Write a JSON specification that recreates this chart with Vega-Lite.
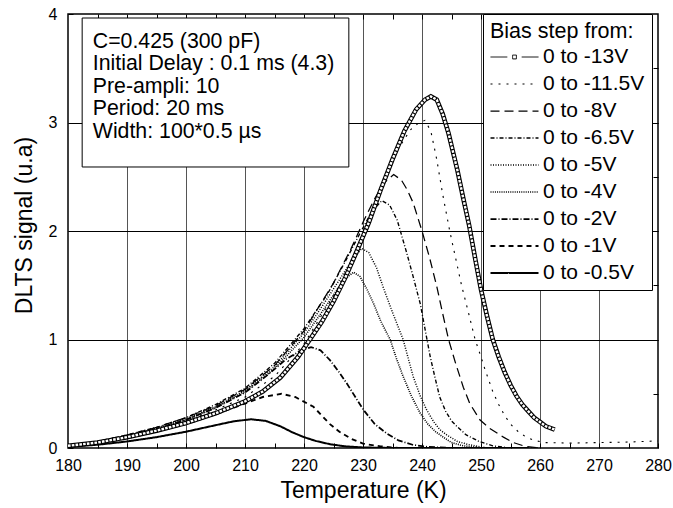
{
  "$schema": "https://vega.github.io/schema/vega-lite/v6.json",
  "width": 590,
  "height": 434,
  "autosize": "none",
  "padding": {"left": 68, "top": 14, "right": 15, "bottom": 60},
  "background": "#ffffff",
  "config": {
    "font": "Liberation Sans",
    "view": {"stroke": "#000000", "strokeWidth": 1.5},
    "axis": {
      "labelFontSize": 16, "labelColor": "#000000", "labelFont": "Liberation Sans",
      "titleFontSize": 23, "titleFontWeight": "normal", "titleColor": "#000000", "titleFont": "Liberation Sans",
      "tickColor": "#000000", "tickSize": -5, "tickWidth": 1, "domain": false
    },
    "legend": {
      "orient": "none", "legendX": 415, "legendY": 0, "padding": 7,
      "strokeColor": "#000000", "fillColor": "#ffffff",
      "titleFontSize": 21.5, "titleFontWeight": "normal", "titleColor": "#000000", "titleFont": "Liberation Sans",
      "labelFontSize": 21, "labelColor": "#000000", "labelFont": "Liberation Sans", "labelLimit": 300,
      "symbolType": "M-4,0H4", "symbolSize": 144, "symbolStrokeColor": "#000000", "symbolOffset": 14,
      "labelOffset": 18, "rowPadding": 5, "titlePadding": 4
    }
  },
  "data": {"values": [
    {"series": "0 to -13V", "T": 180, "v": 0.02}, {"series": "0 to -13V", "T": 185, "v": 0.05}, {"series": "0 to -13V", "T": 190, "v": 0.10}, {"series": "0 to -13V", "T": 195, "v": 0.16}, {"series": "0 to -13V", "T": 200, "v": 0.23}, {"series": "0 to -13V", "T": 205, "v": 0.32}, {"series": "0 to -13V", "T": 210, "v": 0.43}, {"series": "0 to -13V", "T": 213, "v": 0.52}, {"series": "0 to -13V", "T": 216, "v": 0.65}, {"series": "0 to -13V", "T": 219, "v": 0.84}, {"series": "0 to -13V", "T": 221, "v": 1.0}, {"series": "0 to -13V", "T": 223, "v": 1.16}, {"series": "0 to -13V", "T": 225, "v": 1.35}, {"series": "0 to -13V", "T": 227, "v": 1.57}, {"series": "0 to -13V", "T": 229, "v": 1.82}, {"series": "0 to -13V", "T": 231, "v": 2.08}, {"series": "0 to -13V", "T": 233, "v": 2.38}, {"series": "0 to -13V", "T": 235, "v": 2.66}, {"series": "0 to -13V", "T": 237, "v": 2.92}, {"series": "0 to -13V", "T": 239, "v": 3.12}, {"series": "0 to -13V", "T": 240.5, "v": 3.21}, {"series": "0 to -13V", "T": 241.5, "v": 3.24}, {"series": "0 to -13V", "T": 242.5, "v": 3.21}, {"series": "0 to -13V", "T": 243.5, "v": 3.08}, {"series": "0 to -13V", "T": 244.5, "v": 2.9}, {"series": "0 to -13V", "T": 246, "v": 2.56}, {"series": "0 to -13V", "T": 247, "v": 2.3}, {"series": "0 to -13V", "T": 248, "v": 2.05}, {"series": "0 to -13V", "T": 249, "v": 1.75}, {"series": "0 to -13V", "T": 250, "v": 1.46}, {"series": "0 to -13V", "T": 251, "v": 1.22}, {"series": "0 to -13V", "T": 252, "v": 1.0}, {"series": "0 to -13V", "T": 253, "v": 0.84}, {"series": "0 to -13V", "T": 254, "v": 0.7}, {"series": "0 to -13V", "T": 255, "v": 0.58}, {"series": "0 to -13V", "T": 256, "v": 0.48}, {"series": "0 to -13V", "T": 257, "v": 0.4}, {"series": "0 to -13V", "T": 258, "v": 0.34}, {"series": "0 to -13V", "T": 259, "v": 0.28}, {"series": "0 to -13V", "T": 260, "v": 0.24}, {"series": "0 to -13V", "T": 261, "v": 0.2}, {"series": "0 to -13V", "T": 262.5, "v": 0.17},

    {"series": "0 to -11.5V", "T": 180, "v": 0.02}, {"series": "0 to -11.5V", "T": 185, "v": 0.05}, {"series": "0 to -11.5V", "T": 190, "v": 0.11}, {"series": "0 to -11.5V", "T": 195, "v": 0.17}, {"series": "0 to -11.5V", "T": 200, "v": 0.25}, {"series": "0 to -11.5V", "T": 205, "v": 0.35}, {"series": "0 to -11.5V", "T": 210, "v": 0.47}, {"series": "0 to -11.5V", "T": 215, "v": 0.66}, {"series": "0 to -11.5V", "T": 220, "v": 0.96}, {"series": "0 to -11.5V", "T": 225, "v": 1.4}, {"series": "0 to -11.5V", "T": 228, "v": 1.72}, {"series": "0 to -11.5V", "T": 231, "v": 2.12}, {"series": "0 to -11.5V", "T": 234, "v": 2.52}, {"series": "0 to -11.5V", "T": 236, "v": 2.76}, {"series": "0 to -11.5V", "T": 238, "v": 2.93}, {"series": "0 to -11.5V", "T": 239.5, "v": 3.0}, {"series": "0 to -11.5V", "T": 240.5, "v": 3.02}, {"series": "0 to -11.5V", "T": 241.5, "v": 2.92}, {"series": "0 to -11.5V", "T": 242.5, "v": 2.66}, {"series": "0 to -11.5V", "T": 243.5, "v": 2.34}, {"series": "0 to -11.5V", "T": 244.7, "v": 2.0}, {"series": "0 to -11.5V", "T": 245.7, "v": 1.75}, {"series": "0 to -11.5V", "T": 246.7, "v": 1.5}, {"series": "0 to -11.5V", "T": 248, "v": 1.22}, {"series": "0 to -11.5V", "T": 249, "v": 1.0}, {"series": "0 to -11.5V", "T": 250, "v": 0.84}, {"series": "0 to -11.5V", "T": 250.7, "v": 0.72}, {"series": "0 to -11.5V", "T": 252, "v": 0.52}, {"series": "0 to -11.5V", "T": 253, "v": 0.4}, {"series": "0 to -11.5V", "T": 254, "v": 0.3}, {"series": "0 to -11.5V", "T": 255, "v": 0.22}, {"series": "0 to -11.5V", "T": 256.5, "v": 0.14}, {"series": "0 to -11.5V", "T": 257.7, "v": 0.1}, {"series": "0 to -11.5V", "T": 259, "v": 0.07}, {"series": "0 to -11.5V", "T": 261, "v": 0.05}, {"series": "0 to -11.5V", "T": 265, "v": 0.045}, {"series": "0 to -11.5V", "T": 270, "v": 0.05}, {"series": "0 to -11.5V", "T": 275, "v": 0.055}, {"series": "0 to -11.5V", "T": 280, "v": 0.065},

    {"series": "0 to -8V", "T": 180, "v": 0.02}, {"series": "0 to -8V", "T": 185, "v": 0.06}, {"series": "0 to -8V", "T": 190, "v": 0.12}, {"series": "0 to -8V", "T": 195, "v": 0.19}, {"series": "0 to -8V", "T": 200, "v": 0.28}, {"series": "0 to -8V", "T": 205, "v": 0.39}, {"series": "0 to -8V", "T": 210, "v": 0.54}, {"series": "0 to -8V", "T": 215, "v": 0.76}, {"series": "0 to -8V", "T": 220, "v": 1.08}, {"series": "0 to -8V", "T": 225, "v": 1.52}, {"series": "0 to -8V", "T": 228, "v": 1.84}, {"series": "0 to -8V", "T": 230, "v": 2.08}, {"series": "0 to -8V", "T": 232, "v": 2.3}, {"series": "0 to -8V", "T": 233.5, "v": 2.44}, {"series": "0 to -8V", "T": 235.2, "v": 2.52}, {"series": "0 to -8V", "T": 236.5, "v": 2.47}, {"series": "0 to -8V", "T": 237.5, "v": 2.38}, {"series": "0 to -8V", "T": 238.5, "v": 2.26}, {"series": "0 to -8V", "T": 240, "v": 2.0}, {"series": "0 to -8V", "T": 241.3, "v": 1.75}, {"series": "0 to -8V", "T": 242.5, "v": 1.49}, {"series": "0 to -8V", "T": 243.5, "v": 1.24}, {"series": "0 to -8V", "T": 244.5, "v": 1.0}, {"series": "0 to -8V", "T": 245.7, "v": 0.78}, {"series": "0 to -8V", "T": 247, "v": 0.56}, {"series": "0 to -8V", "T": 248.1, "v": 0.41}, {"series": "0 to -8V", "T": 249.8, "v": 0.26}, {"series": "0 to -8V", "T": 251.5, "v": 0.18}, {"series": "0 to -8V", "T": 253.8, "v": 0.1}, {"series": "0 to -8V", "T": 255.5, "v": 0.05}, {"series": "0 to -8V", "T": 257.5, "v": 0.015}, {"series": "0 to -8V", "T": 260, "v": 0.0},

    {"series": "0 to -6.5V", "T": 180, "v": 0.02}, {"series": "0 to -6.5V", "T": 185, "v": 0.06}, {"series": "0 to -6.5V", "T": 190, "v": 0.12}, {"series": "0 to -6.5V", "T": 195, "v": 0.19}, {"series": "0 to -6.5V", "T": 200, "v": 0.28}, {"series": "0 to -6.5V", "T": 205, "v": 0.40}, {"series": "0 to -6.5V", "T": 210, "v": 0.55}, {"series": "0 to -6.5V", "T": 215, "v": 0.78}, {"series": "0 to -6.5V", "T": 220, "v": 1.1}, {"series": "0 to -6.5V", "T": 224, "v": 1.42}, {"series": "0 to -6.5V", "T": 227, "v": 1.72}, {"series": "0 to -6.5V", "T": 229.5, "v": 1.98}, {"series": "0 to -6.5V", "T": 231.5, "v": 2.18}, {"series": "0 to -6.5V", "T": 233.2, "v": 2.28}, {"series": "0 to -6.5V", "T": 234.5, "v": 2.24}, {"series": "0 to -6.5V", "T": 235.8, "v": 2.1}, {"series": "0 to -6.5V", "T": 237.4, "v": 1.8}, {"series": "0 to -6.5V", "T": 238.5, "v": 1.58}, {"series": "0 to -6.5V", "T": 239.7, "v": 1.33}, {"series": "0 to -6.5V", "T": 240.5, "v": 1.1}, {"series": "0 to -6.5V", "T": 241.4, "v": 0.84}, {"series": "0 to -6.5V", "T": 242.2, "v": 0.65}, {"series": "0 to -6.5V", "T": 243, "v": 0.47}, {"series": "0 to -6.5V", "T": 244, "v": 0.34}, {"series": "0 to -6.5V", "T": 245, "v": 0.25}, {"series": "0 to -6.5V", "T": 245.9, "v": 0.2}, {"series": "0 to -6.5V", "T": 247.5, "v": 0.12}, {"series": "0 to -6.5V", "T": 249.7, "v": 0.06}, {"series": "0 to -6.5V", "T": 252, "v": 0.02}, {"series": "0 to -6.5V", "T": 255, "v": 0.0}, {"series": "0 to -6.5V", "T": 260, "v": 0.0},

    {"series": "0 to -5V", "T": 180, "v": 0.02}, {"series": "0 to -5V", "T": 185, "v": 0.05}, {"series": "0 to -5V", "T": 190, "v": 0.11}, {"series": "0 to -5V", "T": 195, "v": 0.18}, {"series": "0 to -5V", "T": 200, "v": 0.27}, {"series": "0 to -5V", "T": 205, "v": 0.38}, {"series": "0 to -5V", "T": 210, "v": 0.53}, {"series": "0 to -5V", "T": 215, "v": 0.75}, {"series": "0 to -5V", "T": 220, "v": 1.06}, {"series": "0 to -5V", "T": 223, "v": 1.3}, {"series": "0 to -5V", "T": 226, "v": 1.55}, {"series": "0 to -5V", "T": 228, "v": 1.72}, {"series": "0 to -5V", "T": 229.8, "v": 1.84}, {"series": "0 to -5V", "T": 231, "v": 1.8}, {"series": "0 to -5V", "T": 232.3, "v": 1.66}, {"series": "0 to -5V", "T": 233.5, "v": 1.47}, {"series": "0 to -5V", "T": 235, "v": 1.25}, {"series": "0 to -5V", "T": 236.8, "v": 1.0}, {"series": "0 to -5V", "T": 237.7, "v": 0.82}, {"series": "0 to -5V", "T": 238.5, "v": 0.66}, {"series": "0 to -5V", "T": 239.7, "v": 0.48}, {"series": "0 to -5V", "T": 240.8, "v": 0.35}, {"series": "0 to -5V", "T": 242, "v": 0.24}, {"series": "0 to -5V", "T": 243, "v": 0.17}, {"series": "0 to -5V", "T": 244.2, "v": 0.12}, {"series": "0 to -5V", "T": 246, "v": 0.06}, {"series": "0 to -5V", "T": 248, "v": 0.03}, {"series": "0 to -5V", "T": 251, "v": 0.0}, {"series": "0 to -5V", "T": 258, "v": 0.0},

    {"series": "0 to -4V", "T": 180, "v": 0.02}, {"series": "0 to -4V", "T": 185, "v": 0.05}, {"series": "0 to -4V", "T": 190, "v": 0.11}, {"series": "0 to -4V", "T": 195, "v": 0.18}, {"series": "0 to -4V", "T": 200, "v": 0.26}, {"series": "0 to -4V", "T": 205, "v": 0.37}, {"series": "0 to -4V", "T": 210, "v": 0.52}, {"series": "0 to -4V", "T": 215, "v": 0.73}, {"series": "0 to -4V", "T": 220, "v": 1.02}, {"series": "0 to -4V", "T": 223, "v": 1.25}, {"series": "0 to -4V", "T": 225.5, "v": 1.45}, {"series": "0 to -4V", "T": 227, "v": 1.56}, {"series": "0 to -4V", "T": 228.4, "v": 1.62}, {"series": "0 to -4V", "T": 229.5, "v": 1.58}, {"series": "0 to -4V", "T": 230.7, "v": 1.46}, {"series": "0 to -4V", "T": 231.8, "v": 1.33}, {"series": "0 to -4V", "T": 233, "v": 1.17}, {"series": "0 to -4V", "T": 234.6, "v": 1.0}, {"series": "0 to -4V", "T": 235.7, "v": 0.82}, {"series": "0 to -4V", "T": 236.8, "v": 0.66}, {"series": "0 to -4V", "T": 238.2, "v": 0.48}, {"series": "0 to -4V", "T": 239.7, "v": 0.32}, {"series": "0 to -4V", "T": 241, "v": 0.22}, {"series": "0 to -4V", "T": 242.3, "v": 0.15}, {"series": "0 to -4V", "T": 243.6, "v": 0.1}, {"series": "0 to -4V", "T": 245, "v": 0.05}, {"series": "0 to -4V", "T": 247, "v": 0.02}, {"series": "0 to -4V", "T": 250, "v": 0.0}, {"series": "0 to -4V", "T": 256, "v": 0.0},

    {"series": "0 to -2V", "T": 180, "v": 0.02}, {"series": "0 to -2V", "T": 185, "v": 0.05}, {"series": "0 to -2V", "T": 190, "v": 0.11}, {"series": "0 to -2V", "T": 195, "v": 0.17}, {"series": "0 to -2V", "T": 200, "v": 0.26}, {"series": "0 to -2V", "T": 205, "v": 0.37}, {"series": "0 to -2V", "T": 210, "v": 0.51}, {"series": "0 to -2V", "T": 214, "v": 0.68}, {"series": "0 to -2V", "T": 217, "v": 0.82}, {"series": "0 to -2V", "T": 219.5, "v": 0.9}, {"series": "0 to -2V", "T": 221.2, "v": 0.93}, {"series": "0 to -2V", "T": 222.8, "v": 0.9}, {"series": "0 to -2V", "T": 224.4, "v": 0.81}, {"series": "0 to -2V", "T": 225.8, "v": 0.71}, {"series": "0 to -2V", "T": 227.2, "v": 0.6}, {"series": "0 to -2V", "T": 228.7, "v": 0.47}, {"series": "0 to -2V", "T": 230.1, "v": 0.35}, {"series": "0 to -2V", "T": 232, "v": 0.22}, {"series": "0 to -2V", "T": 234, "v": 0.135}, {"series": "0 to -2V", "T": 236, "v": 0.07}, {"series": "0 to -2V", "T": 238.4, "v": 0.03}, {"series": "0 to -2V", "T": 241, "v": 0.01}, {"series": "0 to -2V", "T": 245, "v": 0.0}, {"series": "0 to -2V", "T": 256, "v": 0.0},

    {"series": "0 to -1V", "T": 180, "v": 0.015}, {"series": "0 to -1V", "T": 185, "v": 0.04}, {"series": "0 to -1V", "T": 190, "v": 0.09}, {"series": "0 to -1V", "T": 195, "v": 0.15}, {"series": "0 to -1V", "T": 200, "v": 0.22}, {"series": "0 to -1V", "T": 205, "v": 0.31}, {"series": "0 to -1V", "T": 210, "v": 0.41}, {"series": "0 to -1V", "T": 213, "v": 0.47}, {"series": "0 to -1V", "T": 216.2, "v": 0.5}, {"series": "0 to -1V", "T": 218.5, "v": 0.47}, {"series": "0 to -1V", "T": 221.6, "v": 0.38}, {"series": "0 to -1V", "T": 223, "v": 0.3}, {"series": "0 to -1V", "T": 224.4, "v": 0.22}, {"series": "0 to -1V", "T": 226, "v": 0.15}, {"series": "0 to -1V", "T": 228, "v": 0.085}, {"series": "0 to -1V", "T": 230, "v": 0.04}, {"series": "0 to -1V", "T": 233, "v": 0.015}, {"series": "0 to -1V", "T": 236, "v": 0.0}, {"series": "0 to -1V", "T": 252, "v": 0.0},

    {"series": "0 to -0.5V", "T": 180, "v": 0.01}, {"series": "0 to -0.5V", "T": 185, "v": 0.03}, {"series": "0 to -0.5V", "T": 190, "v": 0.06}, {"series": "0 to -0.5V", "T": 195, "v": 0.1}, {"series": "0 to -0.5V", "T": 200, "v": 0.15}, {"series": "0 to -0.5V", "T": 205, "v": 0.21}, {"series": "0 to -0.5V", "T": 208, "v": 0.245}, {"series": "0 to -0.5V", "T": 211, "v": 0.265}, {"series": "0 to -0.5V", "T": 213.5, "v": 0.25}, {"series": "0 to -0.5V", "T": 216, "v": 0.2}, {"series": "0 to -0.5V", "T": 218, "v": 0.145}, {"series": "0 to -0.5V", "T": 220, "v": 0.1}, {"series": "0 to -0.5V", "T": 222, "v": 0.065}, {"series": "0 to -0.5V", "T": 224.4, "v": 0.035}, {"series": "0 to -0.5V", "T": 227, "v": 0.015}, {"series": "0 to -0.5V", "T": 230, "v": 0.005}, {"series": "0 to -0.5V", "T": 235, "v": 0.0}, {"series": "0 to -0.5V", "T": 258, "v": 0.0}
  ]},
  "layer": [
    {
      "mark": {"type": "line", "color": "#000000", "clip": true, "strokeCap": "butt"},
      "encoding": {
        "x": {"field": "T", "type": "quantitative", "title": "Temperature (K)",
              "scale": {"domain": [180, 280], "nice": false, "zero": false},
              "axis": {"orient": "bottom", "values": [180,185,190,195,200,205,210,215,220,225,230,235,240,245,250,255,260,265,270,275,280],
                       "labelExpr": "datum.value % 10 === 0 ? datum.label : ''", "labelPadding": 14, "labelFlush": false,
                       "grid": true, "gridColor": "#555555", "gridWidth": 1,
                       "gridOpacity": {"condition": {"test": "datum.value % 10 !== 0 || datum.value === 180 || datum.value === 280", "value": 0}, "value": 1},
                       "titleY": 42, "titleBaseline": "middle"}},
        "y": {"field": "v", "type": "quantitative", "title": "DLTS signal (u.a)",
              "scale": {"domain": [0, 4], "nice": false},
              "axis": {"orient": "left", "values": [0,0.5,1,1.5,2,2.5,3,3.5,4], "format": "d",
                       "labelExpr": "datum.value % 1 === 0 ? datum.label : ''", "labelPadding": 16, "labelFlush": false,
                       "grid": true, "gridColor": "#000000", "gridWidth": 1,
                       "gridOpacity": {"condition": {"test": "datum.value % 1 !== 0 || datum.value === 0 || datum.value === 4", "value": 0}, "value": 1},
                       "titleX": -44, "titleY": 211, "titleBaseline": "middle"}},
        "detail": {"field": "series"},
        "strokeDash": {"field": "series", "type": "nominal", "title": "Bias step from:",
                       "scale": {"domain": ["0 to -13V", "0 to -11.5V", "0 to -8V", "0 to -6.5V", "0 to -5V", "0 to -4V", "0 to -2V", "0 to -1V", "0 to -0.5V"],
                                 "range": [[1, 0], [2, 6], [9, 5], [4, 2, 1, 2], [1, 1.5], [1, 1.2], [6, 2, 1, 2], [5, 4], [1, 0]]},
                       "legend": {"encode": {"symbols": {"update": {"shape": [{"test": "datum.value === '0 to -13V'", "value": "M-4,0H-1.2M1.2,0H4M-0.32,-0.32H0.32V0.32H-0.32Z"}, {"value": "M-4,0H4"}]}}}}},
        "strokeWidth": {"field": "series", "type": "nominal", "title": "Bias step from:",
                        "scale": {"domain": ["0 to -13V", "0 to -11.5V", "0 to -8V", "0 to -6.5V", "0 to -5V", "0 to -4V", "0 to -2V", "0 to -1V", "0 to -0.5V"],
                                  "range": [1, 2, 2, 1, 1, 1, 1, 1, 2.5]}}
      }
    },
    {
      "transform": [{"filter": "datum.series === '0 to -13V'"}],
      "mark": {"type": "line", "color": "#000000", "strokeWidth": 4.6, "clip": true},
      "encoding": {
        "x": {"field": "T", "type": "quantitative", "axis": null},
        "y": {"field": "v", "type": "quantitative", "axis": null}
      }
    },
    {
      "transform": [{"filter": "datum.series === '0 to -13V'"}],
      "mark": {"type": "line", "color": "#ffffff", "strokeWidth": 2.4, "strokeDash": [2.6, 1.2], "strokeCap": "butt", "clip": true},
      "encoding": {
        "x": {"field": "T", "type": "quantitative", "axis": null},
        "y": {"field": "v", "type": "quantitative", "axis": null}
      }
    },
    {
      "data": {"values": [{"note": "box"}]},
      "mark": {"type": "rect", "fill": "#ffffff", "stroke": "#000000", "strokeWidth": 1},
      "encoding": {
        "x": {"datum": 182.4, "type": "quantitative", "axis": null},
        "x2": {"datum": 227.6},
        "y": {"datum": 3.963, "type": "quantitative", "axis": null},
        "y2": {"datum": 2.59}
      }
    },
    {
      "data": {"values": [{"note": ["C=0.425 (300 pF)", "Initial Delay : 0.1 ms (4.3)", "Pre-ampli: 10", "Period: 20 ms", "Width: 100*0.5 µs"]}]},
      "mark": {"type": "text", "align": "left", "baseline": "middle", "fontSize": 21.3, "lineHeight": 22.6, "font": "Liberation Sans", "color": "#000000"},
      "encoding": {
        "x": {"datum": 184.2, "type": "quantitative", "axis": null},
        "y": {"datum": 3.745, "type": "quantitative", "axis": null},
        "text": {"field": "note"}
      }
    },
    {
      "mark": {"type": "point", "opacity": 0},
      "encoding": {
        "x": {"field": "T", "type": "quantitative",
              "axis": {"orient": "top", "values": [185,190,195,200,205,210,215,220,225,230,235,240,245,250,255,260,265,270,275], "labels": false, "grid": false, "title": null}},
        "y": {"field": "v", "type": "quantitative",
              "axis": {"orient": "right", "values": [0.5,1,1.5,2,2.5,3,3.5], "labels": false, "grid": false, "title": null}}
      }
    }
  ],
  "resolve": {"axis": {"x": "independent", "y": "independent"}}
}
